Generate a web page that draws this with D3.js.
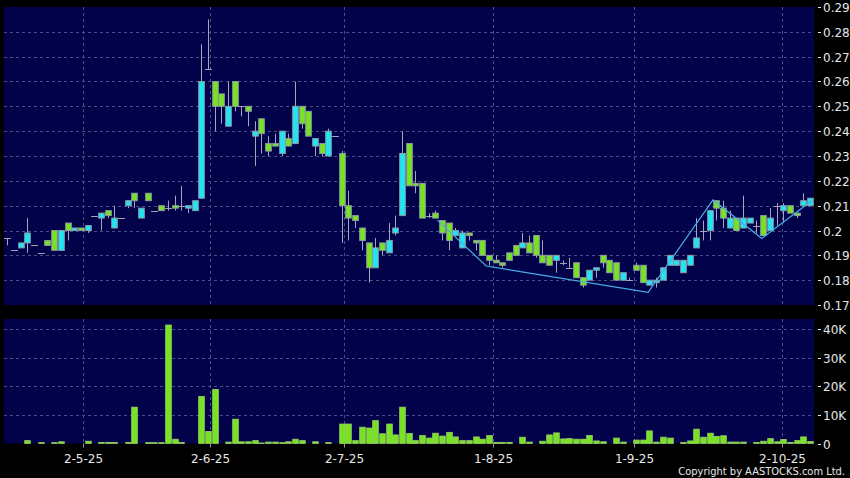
<!DOCTYPE html>
<html>
<head>
<meta charset="utf-8">
<script src="https://cdn.jsdelivr.net/npm/d3@7"></script>
<style>
  body { margin: 0; background: #000; }
  svg { display: block; }
</style>
</head>
<body>
<div id="chart"></div>
<script>
// daily candles, oldest first (price in HKD)
const open = [
  0.197, 0.192, 0.193, 0.195, 0.194, 0.191, 0.196, 0.200, 0.192, 0.203,
  0.200, 0.201, 0.200, 0.206, 0.205, 0.208, 0.201, 0.205, 0.210, 0.215,
  0.205, 0.215, 0.208, 0.210, 0.209, 0.210, 0.210, 0.209, 0.208, 0.213,
  0.265, 0.260, 0.255, 0.242, 0.260, 0.250, 0.250, 0.238, 0.245, 0.235,
  0.235, 0.231, 0.237, 0.235, 0.250, 0.248, 0.234, 0.235, 0.230, 0.238,
  0.231, 0.210, 0.206, 0.201, 0.195, 0.185, 0.195, 0.191, 0.199, 0.206,
  0.235, 0.219, 0.219, 0.206, 0.207, 0.204, 0.203, 0.198, 0.193, 0.199,
  0.196, 0.196, 0.190, 0.188, 0.187, 0.191, 0.194, 0.193, 0.195, 0.198,
  0.190, 0.190, 0.188, 0.187, 0.185, 0.187, 0.181, 0.180, 0.184, 0.190,
  0.188, 0.187, 0.180, 0.180, 0.186, 0.186, 0.178, 0.179, 0.180, 0.186,
  0.186, 0.183, 0.186, 0.193, 0.200, 0.200, 0.212, 0.209, 0.201, 0.205,
  0.201, 0.203, 0.202, 0.206, 0.200, 0.210, 0.208, 0.210, 0.207, 0.210,
  0.210
];
const close = [
  0.197, 0.192, 0.195, 0.199, 0.194, 0.191, 0.194, 0.192, 0.200, 0.200,
  0.201, 0.200, 0.202, 0.206, 0.207, 0.206, 0.205, 0.205, 0.212, 0.212,
  0.209, 0.212, 0.208, 0.208, 0.209, 0.209, 0.210, 0.210, 0.212, 0.260,
  0.265, 0.250, 0.250, 0.250, 0.250, 0.250, 0.248, 0.240, 0.239, 0.232,
  0.234, 0.240, 0.234, 0.250, 0.243, 0.238, 0.237, 0.231, 0.240, 0.238,
  0.210, 0.205, 0.204, 0.196, 0.185, 0.193, 0.192, 0.196, 0.201, 0.231,
  0.218, 0.218, 0.205, 0.206, 0.205, 0.199, 0.196, 0.200, 0.199, 0.198,
  0.195, 0.190, 0.188, 0.187, 0.186, 0.188, 0.190, 0.195, 0.191, 0.190,
  0.187, 0.186, 0.190, 0.187, 0.185, 0.181, 0.178, 0.184, 0.185, 0.187,
  0.183, 0.180, 0.183, 0.180, 0.184, 0.179, 0.180, 0.180, 0.185, 0.190,
  0.188, 0.188, 0.190, 0.197, 0.200, 0.208, 0.209, 0.205, 0.205, 0.200,
  0.205, 0.205, 0.202, 0.198, 0.205, 0.210, 0.210, 0.207, 0.206, 0.212,
  0.213
];
const high = [
  0.197, 0.192, 0.195, 0.205, 0.194, 0.191, 0.196, 0.200, 0.200, 0.203,
  0.201, 0.201, 0.202, 0.206, 0.207, 0.208, 0.210, 0.205, 0.212, 0.215,
  0.209, 0.215, 0.208, 0.210, 0.212, 0.214, 0.218, 0.210, 0.212, 0.275,
  0.285, 0.260, 0.255, 0.260, 0.260, 0.250, 0.250, 0.244, 0.245, 0.238,
  0.239, 0.240, 0.239, 0.260, 0.250, 0.248, 0.237, 0.235, 0.241, 0.238,
  0.232, 0.216, 0.206, 0.201, 0.195, 0.197, 0.195, 0.203, 0.206, 0.240,
  0.235, 0.224, 0.219, 0.207, 0.208, 0.204, 0.203, 0.201, 0.200, 0.199,
  0.196, 0.196, 0.190, 0.190, 0.187, 0.191, 0.194, 0.199, 0.198, 0.198,
  0.196, 0.190, 0.190, 0.188, 0.189, 0.187, 0.181, 0.184, 0.185, 0.190,
  0.188, 0.187, 0.183, 0.181, 0.187, 0.186, 0.180, 0.181, 0.185, 0.190,
  0.188, 0.188, 0.190, 0.205, 0.204, 0.208, 0.212, 0.212, 0.208, 0.205,
  0.214, 0.205, 0.204, 0.206, 0.209, 0.211, 0.211, 0.210, 0.207, 0.215,
  0.213
];
const low = [
  0.194, 0.192, 0.193, 0.191, 0.194, 0.191, 0.194, 0.192, 0.192, 0.196,
  0.200, 0.200, 0.199, 0.206, 0.200, 0.205, 0.201, 0.205, 0.209, 0.209,
  0.205, 0.212, 0.208, 0.208, 0.208, 0.208, 0.208, 0.207, 0.208, 0.213,
  0.265, 0.240, 0.243, 0.242, 0.248, 0.246, 0.242, 0.226, 0.231, 0.230,
  0.234, 0.230, 0.234, 0.235, 0.241, 0.238, 0.230, 0.230, 0.230, 0.238,
  0.195, 0.196, 0.201, 0.192, 0.179, 0.185, 0.190, 0.191, 0.198, 0.206,
  0.218, 0.215, 0.205, 0.205, 0.205, 0.196, 0.192, 0.198, 0.193, 0.196,
  0.192, 0.190, 0.186, 0.187, 0.185, 0.188, 0.190, 0.193, 0.191, 0.189,
  0.187, 0.186, 0.183, 0.186, 0.185, 0.181, 0.177, 0.180, 0.181, 0.185,
  0.183, 0.180, 0.180, 0.180, 0.184, 0.179, 0.178, 0.177, 0.180, 0.186,
  0.186, 0.183, 0.186, 0.193, 0.196, 0.196, 0.204, 0.201, 0.201, 0.200,
  0.201, 0.203, 0.199, 0.198, 0.200, 0.202, 0.203, 0.207, 0.205, 0.210,
  0.210
];
// volume in thousands of shares
const volume = [
  0, 0, 0, 1.0, 0, 0.3, 0, 0.3, 0.6, 0,
  0, 0, 0.8, 0, 0.4, 0.4, 0.4, 0, 0.4, 12.7,
  0, 0.3, 0.3, 0.3, 41.4, 1.5, 0.4, 0, 0, 16.4,
  4.2, 18.9, 0, 0.5, 8.5, 0.6, 0.6, 1.0, 0.2, 0.5,
  0.5, 0.3, 0.6, 1.5, 1.0, 0, 0.6, 0, 0.3, 0,
  6.8, 6.8, 1.0, 5.7, 5.4, 8.0, 3.4, 6.8, 3.0, 12.7,
  3.5, 1.0, 2.8, 1.9, 3.6, 2.6, 3.9, 2.3, 1.0, 1.0,
  2.3, 1.5, 2.8, 0.4, 0.4, 0.4, 0, 2.2, 0.5, 0,
  0.8, 3.0, 3.7, 1.6, 1.7, 1.5, 1.5, 2.8, 0.9, 0.6,
  0, 1.9, 0.5, 0, 1.2, 1.2, 4.4, 0.5, 2.2, 1.9,
  0, 0.4, 0.9, 5.0, 2.2, 3.6, 2.5, 2.7, 0.5, 0.5,
  0.5, 0, 0.4, 0.8, 1.7, 0.6, 1.4, 0.4, 1.0, 2.3,
  0.7
];
// zigzag overlay: [candle index, price]
const zigIndex = [64.3, 71.6, 95.8, 105.5, 112.8, 120.4];
const zigPrice = [0.2042, 0.1857, 0.1751, 0.2123, 0.1968, 0.2123];

const dateLabels = ['2-5-25', '2-6-25', '2-7-25', '1-8-25', '1-9-25', '2-10-25'];
const dateIndex = [11.3, 30.3, 50.4, 72.6, 93.7, 115.8];
const priceTicks = [0.17, 0.18, 0.19, 0.20, 0.21, 0.22, 0.23, 0.24, 0.25, 0.26, 0.27, 0.28, 0.29];
const volTicks = [0, 10, 20, 30, 40];

const W = 850, H = 478;
const plotL = 4, plotR = 814;
const priceTop = 7, priceBottom = 305;
const volTop = 319, volBottom = 443.5;
const navy = '#02024a';
const gridColor = '#4c4c80';
const textColor = '#e6e6e6';
const upColor = '#1fe6f5', downColor = '#78e323';
const edgeColor = '#8c9aa6', wickColor = '#a4a6b8';
const font = 'DejaVu Sans, sans-serif';

const svg = d3.select('#chart').append('svg')
  .attr('width', W).attr('height', H)
  .style('background', '#000');

const x = d3.scaleLinear().domain([0, open.length - 1]).range([7.3, 810]);
const y = d3.scaleLinear().domain([0.17, 0.29]).range([priceBottom, priceTop]);
const yv = d3.scaleLinear().domain([0, 43.5]).range([volBottom, volTop]);
const bodyW = 5.6;

// panels
svg.append('rect').attr('x', plotL).attr('y', priceTop)
  .attr('width', plotR - plotL).attr('height', priceBottom - priceTop).attr('fill', navy);
svg.append('rect').attr('x', plotL).attr('y', volTop)
  .attr('width', plotR - plotL).attr('height', volBottom - volTop).attr('fill', navy);

// grid
const grid = svg.append('g').attr('stroke', gridColor).attr('stroke-dasharray', '3,3').attr('stroke-width', 1);
grid.selectAll('.hp').data(priceTicks.slice(1, -1)).enter().append('line')
  .attr('x1', plotL).attr('x2', plotR)
  .attr('y1', (d) => Math.round(y(d)) + 0.5).attr('y2', (d) => Math.round(y(d)) + 0.5);
grid.selectAll('.hv').data(volTicks.slice(1)).enter().append('line')
  .attr('x1', plotL).attr('x2', plotR)
  .attr('y1', (d) => Math.round(yv(d)) + 0.5).attr('y2', (d) => Math.round(yv(d)) + 0.5);
dateIndex.forEach((d) => {
  const gx = Math.round(x(d)) + 0.5;
  grid.append('line').attr('x1', gx).attr('x2', gx).attr('y1', priceTop).attr('y2', priceBottom);
  grid.append('line').attr('x1', gx).attr('x2', gx).attr('y1', volTop).attr('y2', volBottom);
});

// candles
const candles = open.map((o, i) => ({ i, o, c: close[i], h: high[i], l: low[i] }));
const cg = svg.append('g');
cg.selectAll('.wick').data(candles).enter().append('line')
  .attr('x1', (d) => Math.round(x(d.i)) + 0.5).attr('x2', (d) => Math.round(x(d.i)) + 0.5)
  .attr('y1', (d) => y(d.h)).attr('y2', (d) => y(d.l))
  .attr('stroke', wickColor).attr('stroke-width', 1);
cg.selectAll('.body').data(candles.filter((d) => d.o !== d.c)).enter().append('rect')
  .attr('x', (d) => Math.round(x(d.i)) + 0.5 - bodyW / 2)
  .attr('y', (d) => y(Math.max(d.o, d.c)))
  .attr('width', bodyW)
  .attr('height', (d) => Math.max(1, Math.abs(y(d.o) - y(d.c))))
  .attr('fill', (d) => (d.c > d.o ? upColor : downColor))
  .attr('stroke', edgeColor).attr('stroke-width', 1);
cg.selectAll('.doji').data(candles.filter((d) => d.o === d.c)).enter().append('line')
  .attr('x1', (d) => Math.round(x(d.i)) + 0.5 - 3.4).attr('x2', (d) => Math.round(x(d.i)) + 0.5 + 3.4)
  .attr('y1', (d) => Math.round(y(d.o)) + 0.5).attr('y2', (d) => Math.round(y(d.o)) + 0.5)
  .attr('stroke', wickColor).attr('stroke-width', 1);

// zigzag line
const zig = zigIndex.map((d, k) => [x(d), y(zigPrice[k])]);
svg.append('path').attr('d', d3.line()(zig))
  .attr('fill', 'none').attr('stroke', '#48aee8').attr('stroke-width', 1.2);

// volume bars
svg.append('g').selectAll('rect').data(volume.map((v, i) => ({ v, i })).filter((d) => d.v > 0))
  .enter().append('rect')
  .attr('x', (d) => Math.round(x(d.i)) + 0.5 - bodyW / 2)
  .attr('y', (d) => yv(d.v))
  .attr('width', bodyW)
  .attr('height', (d) => volBottom - yv(d.v))
  .attr('fill', downColor)
  .attr('stroke', '#9ccf6a').attr('stroke-width', 0.8);

// right axes
const axisG = svg.append('g').attr('fill', textColor).attr('font-family', font).attr('font-size', 12);
priceTicks.forEach((p) => {
  const ty = Math.round(y(p)) + 0.5;
  svg.append('line').attr('x1', 818).attr('x2', 821).attr('y1', ty).attr('y2', ty).attr('stroke', textColor);
  axisG.append('text').attr('x', 823).attr('y', ty).attr('dy', '0.36em').text(d3.format('.2f')(p).replace(/^0\.(\d)0$/, '0.$1'));
});
volTicks.forEach((v) => {
  const ty = Math.round(yv(v)) + 0.5;
  svg.append('line').attr('x1', 818).attr('x2', 821).attr('y1', ty).attr('y2', ty).attr('stroke', textColor);
  axisG.append('text').attr('x', 823).attr('y', ty).attr('dy', '0.36em').text(v === 0 ? '0' : `${v}K`);
});

// date axis
dateIndex.forEach((d, k) => {
  const tx = Math.round(x(d)) + 0.5;
  svg.append('line').attr('x1', tx).attr('x2', tx).attr('y1', volBottom).attr('y2', volBottom + 4).attr('stroke', '#9a9a9a');
  axisG.append('text').attr('x', tx).attr('y', 462.5).attr('text-anchor', 'middle').text(dateLabels[k]);
});

svg.append('text').attr('x', 845).attr('y', 475).attr('text-anchor', 'end')
  .attr('fill', textColor).attr('font-family', 'DejaVu Sans Condensed, sans-serif').attr('font-size', 11)
  .text('Copyright by AASTOCKS.com Ltd.');
</script>
</body>
</html>
